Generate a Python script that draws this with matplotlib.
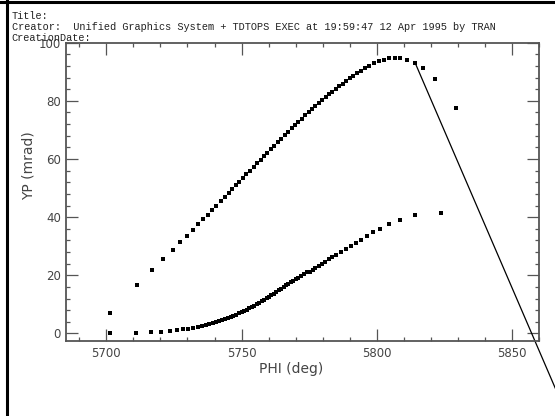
import matplotlib
matplotlib.use("Agg")
import matplotlib.pyplot as plt
from matplotlib.lines import Line2D
from matplotlib.ticker import MultipleLocator

# ── Data ───────────────────────────────────────────────────────────────────────
upper_phi = [5701.3, 5711.5, 5717.0, 5721.1, 5724.5, 5727.3, 5729.8, 5732.0,
             5734.0, 5735.9, 5737.5, 5739.1, 5740.7, 5742.2, 5743.7, 5745.2,
             5746.5, 5747.9, 5749.2, 5750.5, 5751.8, 5753.1, 5754.4, 5755.7,
             5757.0, 5758.3, 5759.5, 5760.8, 5762.1, 5763.4, 5764.7, 5766.0,
             5767.3, 5768.5, 5769.8, 5771.0, 5772.3, 5773.5, 5774.8, 5776.0,
             5777.3, 5778.5, 5779.8, 5781.0, 5782.3, 5783.5, 5784.8, 5786.0,
             5787.3, 5788.6, 5789.9, 5791.3, 5792.8, 5794.3, 5795.7, 5797.2,
             5798.9, 5800.7, 5802.6, 5804.6, 5806.6, 5808.5, 5811.0, 5814.1,
             5817.1, 5821.6, 5829.1]
upper_yp = [7.1, 16.5, 21.8, 25.6, 28.7, 31.3, 33.6, 35.6,
            37.5, 39.2, 40.8, 42.3, 43.9, 45.4, 46.8, 48.2,
            49.6, 50.9, 52.2, 53.5, 54.7, 56.0, 57.2, 58.5,
            59.8, 61.0, 62.2, 63.4, 64.6, 65.8, 67.0, 68.2,
            69.4, 70.5, 71.7, 72.8, 73.9, 75.0, 76.1, 77.2,
            78.3, 79.3, 80.3, 81.3, 82.3, 83.2, 84.1, 85.0,
            85.9, 86.8, 87.7, 88.6, 89.5, 90.4, 91.2, 92.0,
            92.9, 93.6, 94.2, 94.6, 94.8, 94.6, 94.1, 93.1,
            91.2, 87.4, 77.5]

lower_phi = [5701.3, 5711.1, 5716.4, 5720.1, 5723.4, 5726.1, 5728.3, 5730.3,
             5732.1, 5733.8, 5735.3, 5736.7, 5738.0, 5739.3, 5740.5, 5741.7,
             5742.8, 5743.9, 5745.0, 5746.0, 5747.0, 5748.0, 5749.0, 5750.0,
             5751.0, 5751.9, 5752.8, 5753.8, 5754.7, 5755.6, 5756.5, 5757.4,
             5758.3, 5759.2, 5760.1, 5761.0, 5761.9, 5762.8, 5763.7, 5764.6,
             5765.5, 5766.4, 5767.3, 5768.2, 5769.1, 5770.0, 5771.0, 5772.0,
             5773.0, 5774.0, 5775.1, 5776.2, 5777.3, 5778.5, 5779.7, 5780.9,
             5782.2, 5783.5, 5785.0, 5786.7, 5788.5, 5790.4, 5792.1, 5794.1,
             5796.2, 5798.7, 5801.3, 5804.5, 5808.5, 5814.0, 5823.7]
lower_yp = [0.0, 0.2, 0.4, 0.6, 0.9, 1.1, 1.4, 1.6,
            1.9, 2.2, 2.5, 2.8, 3.1, 3.5, 3.8, 4.2,
            4.5, 4.9, 5.3, 5.7, 6.1, 6.5, 6.9, 7.3,
            7.8, 8.2, 8.7, 9.2, 9.6, 10.1, 10.6, 11.1,
            11.6, 12.1, 12.7, 13.2, 13.7, 14.3, 14.8, 15.4,
            15.9, 16.5, 17.0, 17.6, 18.1, 18.7, 19.2, 19.8,
            20.4, 21.0, 21.2, 21.9, 22.6, 23.3, 24.0, 24.7,
            25.5, 26.2, 27.1, 28.1, 29.1, 30.2, 31.2, 32.3,
            33.5, 34.8, 36.0, 37.5, 39.1, 40.6, 41.5]

# straight segment leaving the upper curve and running off the page
line_phi = [5814.1, 5872.0]
line_yp = [93.1, -32.0]

header = ["Title:",
          "Creator:  Unified Graphics System + TDTOPS EXEC at 19:59:47 12 Apr 1995 by TRAN",
          "CreationDate:"]

# ── Figure ─────────────────────────────────────────────────────────────────────
fig = plt.figure(figsize=(5.55, 4.16), dpi=100)
ax = fig.add_axes([0.1184, 0.181, 0.8533, 0.7164])

ax.plot(upper_phi, upper_yp, ls="none", marker="s", ms=2.2, color="k", mew=0)
ax.plot(lower_phi, lower_yp, ls="none", marker="s", ms=2.2, color="k", mew=0)
ax.plot(line_phi, line_yp, color="k", lw=0.9, clip_on=False)

ax.set_xlim(5685, 5860)
ax.set_ylim(-2.5, 100)
ax.xaxis.set_major_locator(MultipleLocator(50))
ax.xaxis.set_minor_locator(MultipleLocator(10))
ax.yaxis.set_major_locator(MultipleLocator(20))
ax.yaxis.set_minor_locator(MultipleLocator(4))

axis_grey = "#555555"
ax.tick_params(which="both", direction="in", top=True, right=True,
               color=axis_grey, labelcolor="#444444", labelsize=8.5)
ax.tick_params(which="major", length=8.6, width=0.9)
ax.tick_params(which="minor", length=3.0, width=0.9)
ax.tick_params(axis="x", pad=4.3)
ax.tick_params(axis="y", pad=3.4)
for sp in ax.spines.values():
    sp.set_color(axis_grey)
    sp.set_linewidth(1.3)

ax.set_xlabel("PHI (deg)", fontsize=10, color="#444444")
ax.set_ylabel("YP (mrad)", fontsize=10, color="#444444")
ax.xaxis.set_label_coords(0.475, -0.073)
ax.yaxis.set_label_coords(-0.064, 0.586)

# page header text
for txt, ypix in zip(header, [15.7, 26.5, 38.0]):
    fig.text(11.5 / 555, 1 - ypix / 416, txt, family="Liberation Mono",
             fontsize=7.4, color="#222222", va="center", ha="left")

# page frame: left and top edges only
fig.add_artist(Line2D([7 / 555, 7 / 555], [0, 1], color="k", lw=2.2,
                      transform=fig.transFigure))
fig.add_artist(Line2D([0, 1], [1 - 2 / 416, 1 - 2 / 416], color="k", lw=2.2,
                      transform=fig.transFigure))

fig.savefig("out.png", dpi=100)
